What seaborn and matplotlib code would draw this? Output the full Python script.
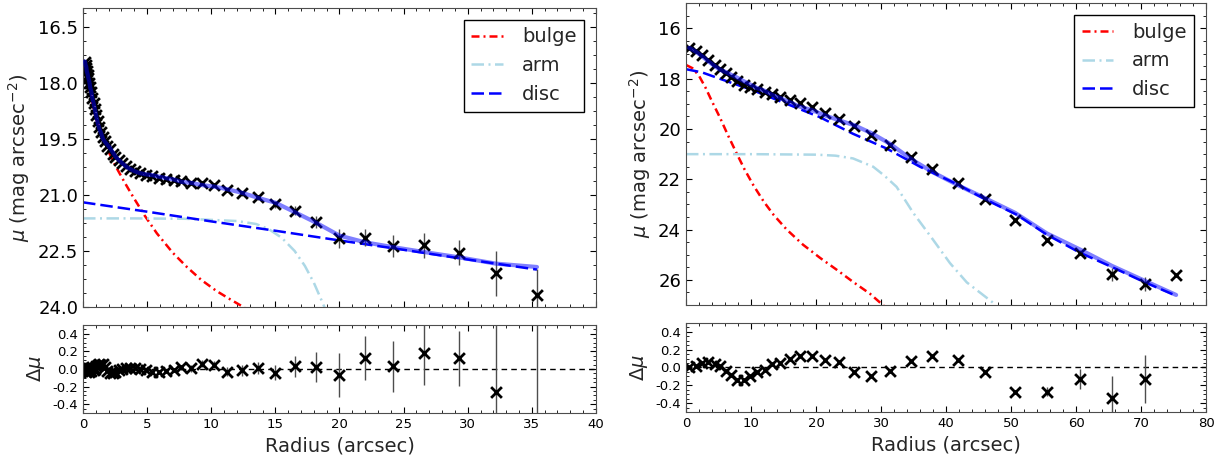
import numpy as np
import pandas as pd
import matplotlib
matplotlib.use("Agg")
import matplotlib.pyplot as plt
from matplotlib.ticker import AutoMinorLocator, FormatStrFormatter
from matplotlib.lines import Line2D
import seaborn as sns

# ---------------- data: left galaxy ----------------
r_L = [0.15, 0.20, 0.25, 0.30, 0.36, 0.42, 0.49, 0.56, 0.64, 0.73, 0.82, 0.92, 1.03, 1.15,
       1.28, 1.42, 1.57, 1.73, 1.90, 2.09, 2.30, 2.53, 2.78, 3.05, 3.35, 3.68, 4.04, 4.44,
       4.88, 5.36, 5.89, 6.47, 7.10, 7.65, 8.45, 9.30, 10.25, 11.25, 12.40, 13.65, 15.00,
       16.50, 18.20, 20.00, 22.00, 24.20, 26.60, 29.30, 32.20, 35.40]
mu_L = [17.45, 17.52, 17.60, 17.68, 17.78, 17.88, 18.00, 18.12, 18.25, 18.40, 18.55, 18.70,
        18.87, 19.03, 19.18, 19.32, 19.45, 19.57, 19.68, 19.78, 19.90, 20.00, 20.08, 20.15,
        20.23, 20.30, 20.36, 20.42, 20.46, 20.50, 20.54, 20.57, 20.60, 20.63, 20.67, 20.68,
        20.73, 20.88, 20.96, 21.07, 21.25, 21.43, 21.73, 22.16, 22.15, 22.37, 22.35, 22.55,
        23.10, 23.68]
mu_err_L = [0.01, 0.01, 0.01, 0.01, 0.01, 0.01, 0.01, 0.01, 0.01, 0.01, 0.01, 0.01, 0.01, 0.01,
            0.01, 0.01, 0.01, 0.01, 0.01, 0.01, 0.01, 0.01, 0.01, 0.01, 0.01, 0.01, 0.01, 0.01,
            0.02, 0.02, 0.02, 0.02, 0.02, 0.03, 0.04, 0.04, 0.04, 0.05, 0.06, 0.07, 0.09,
            0.12, 0.16, 0.25, 0.23, 0.29, 0.33, 0.33, 0.60, 0.70]
model_L = [17.43, 17.53, 17.57, 17.70, 17.77, 17.88, 17.97, 18.13, 18.23, 18.42, 18.54, 18.70,
           18.90, 19.08, 19.24, 19.36, 19.51, 19.59, 19.66, 19.74, 19.85, 19.97, 20.07, 20.15,
           20.24, 20.31, 20.37, 20.42, 20.45, 20.47, 20.51, 20.55, 20.59, 20.65, 20.68, 20.74,
           20.78, 20.85, 20.945, 21.08, 21.21, 21.46, 21.75, 22.09, 22.27, 22.40, 22.53, 22.67,
           22.84, 22.93]
dmu_L = [-0.02, 0.01, -0.03, 0.02, -0.01, 0.00, -0.03, 0.01, -0.02, 0.02, -0.01, 0.00, 0.03,
         0.05, 0.06, 0.04, 0.06, 0.02, -0.02, -0.04, -0.05, -0.03, -0.01, 0.00, 0.01, 0.01,
         0.01, 0.00, -0.01, -0.03, -0.03, -0.02, -0.01, 0.02, 0.01, 0.06, 0.05, -0.03, -0.015,
         0.01, -0.04, 0.03, 0.02, -0.07, 0.12, 0.03, 0.18, 0.12, -0.26, -0.75]
dmu_err_L = [0.02, 0.02, 0.02, 0.02, 0.02, 0.02, 0.02, 0.02, 0.02, 0.02, 0.02, 0.02, 0.02, 0.02,
             0.02, 0.02, 0.02, 0.02, 0.02, 0.02, 0.02, 0.02, 0.02, 0.02, 0.02, 0.02, 0.02, 0.02,
             0.02, 0.02, 0.02, 0.02, 0.02, 0.03, 0.04, 0.04, 0.04, 0.05, 0.06, 0.07, 0.09,
             0.12, 0.17, 0.25, 0.25, 0.29, 0.36, 0.31, 0.80, 1.30]

bulge_r_L = [0.15, 0.5, 1.0, 1.5, 2.0, 2.65, 3.3, 3.9, 4.8, 5.76, 7.0, 8.1, 9.2, 10.4, 11.5, 12.6]
bulge_mu_L = [17.55, 18.2, 18.95, 19.45, 19.85, 20.3, 20.7, 21.05, 21.55, 22.03, 22.55, 22.93,
              23.27, 23.57, 23.8, 24.02]
arm_r_L = [0, 4, 8, 12, 13.5, 14.5, 15.5, 16.5, 17.3, 18.0, 18.7, 19.0]
arm_mu_L = [21.63, 21.63, 21.64, 21.70, 21.78, 21.92, 22.15, 22.50, 22.90, 23.35, 23.90, 24.15]
disc_r_L = [0, 5, 10, 15, 20, 25, 30, 35.4]
disc_mu_L = [21.20, 21.45, 21.71, 21.96, 22.22, 22.47, 22.73, 23.00]

# ---------------- data: right galaxy ----------------
r_R = [0.5, 1.5, 2.5, 3.4, 4.4, 5.3, 6.1, 7.0, 7.9, 8.9, 9.9, 10.9, 12.1, 13.3, 14.5, 16.0,
       17.5, 19.4, 21.4, 23.5, 25.9, 28.5, 31.4, 34.6, 37.9, 41.8, 46.0, 50.6, 55.5, 60.6,
       65.5, 70.6, 75.4]
mu_R = [16.77, 16.90, 17.06, 17.24, 17.45, 17.63, 17.77, 17.93, 18.10, 18.24, 18.33, 18.42,
        18.51, 18.61, 18.72, 18.85, 18.98, 19.12, 19.38, 19.59, 19.90, 20.25, 20.63, 21.12,
        21.58, 22.15, 22.80, 23.60, 24.42, 24.92, 25.78, 26.17, 25.80]
mu_err_R = [0.01, 0.01, 0.01, 0.01, 0.01, 0.01, 0.01, 0.01, 0.01, 0.01, 0.01, 0.01, 0.01, 0.01,
            0.01, 0.01, 0.01, 0.01, 0.01, 0.01, 0.01, 0.01, 0.01, 0.01, 0.01, 0.01, 0.01, 0.02,
            0.05, 0.11, 0.25, 0.27, 0.05]
model_R = [16.77, 16.92, 17.11, 17.30, 17.49, 17.65, 17.73, 17.85, 17.96, 18.10, 18.23, 18.37,
           18.48, 18.65, 18.77, 18.94, 19.11, 19.25, 19.46, 19.65, 19.85, 20.16, 20.59, 21.19,
           21.71, 22.23, 22.75, 23.33, 24.15, 24.79, 25.44, 26.04, 26.60]
dmu_R = [0.00, 0.02, 0.05, 0.06, 0.04, 0.02, -0.04, -0.08, -0.14, -0.14, -0.10, -0.05, -0.03,
         0.04, 0.05, 0.09, 0.13, 0.13, 0.08, 0.06, -0.05, -0.09, -0.04, 0.07, 0.13, 0.08,
         -0.05, -0.27, -0.27, -0.13, -0.34, -0.13, 0.80]
dmu_err_R = mu_err_R

bulge_r_R = [0, 1, 2, 3, 4, 5.2, 6.5, 7.8, 9, 10.4, 12, 13.5, 15.5, 18, 20.6, 23.2, 25.7, 28.3,
             30.5]
bulge_mu_R = [17.45, 17.58, 17.88, 18.35, 18.9, 19.53, 20.27, 20.97, 21.6, 22.25, 22.9, 23.42,
              24.0, 24.6, 25.12, 25.6, 26.08, 26.55, 27.05]
arm_r_R = [0, 10, 20, 23, 25.7, 28.8, 30.5, 32.4, 35.0, 38.0, 40.6, 43.2, 47.5]
arm_mu_R = [21.0, 21.0, 21.02, 21.06, 21.17, 21.5, 21.85, 22.3, 23.35, 24.4, 25.33, 26.1, 26.96]
disc_r_R = [0, 2.5, 5.2, 10.4, 15.5, 20.6, 25.7, 30.9, 36.0, 41.9, 46.2, 50.9, 55.5, 60.6, 65.7,
            70.6, 75.4]
disc_mu_R = [17.62, 17.75, 18.0, 18.47, 19.0, 19.53, 20.19, 20.78, 21.5, 22.22, 22.82, 23.41,
             24.2, 24.92, 25.51, 26.1, 26.63]

# ---------------- style ----------------
sns.set_style("ticks", rc={
    "xtick.direction": "in", "ytick.direction": "in",
    "xtick.top": True, "ytick.right": True,
    "axes.edgecolor": "0.3", "axes.linewidth": 1.2,
    "xtick.color": "k", "ytick.color": "k",
})
plt.rcParams["font.family"] = ["DejaVu Sans"]
plt.rcParams["mathtext.fontset"] = "dejavusans"
plt.rcParams["xtick.major.size"] = 4
plt.rcParams["ytick.major.size"] = 4
plt.rcParams["xtick.minor.size"] = 2
plt.rcParams["ytick.minor.size"] = 2
plt.rcParams["xtick.minor.visible"] = True
plt.rcParams["ytick.minor.visible"] = True

fig = plt.figure(figsize=(12.28, 4.59), dpi=100)
axL = fig.add_axes([0.0676, 0.3312, 0.4177, 0.6514])
axLr = fig.add_axes([0.0676, 0.1002, 0.4177, 0.1917])
axR = fig.add_axes([0.5586, 0.3355, 0.4235, 0.6573])
axRr = fig.add_axes([0.5586, 0.1024, 0.4235, 0.1939])

BULGE_LS = (0, (3.2, 1.6, 0.8, 1.6))
ARM_LS = (0, (5, 1.8, 0.8, 1.8))
DISC_LS = (0, (5, 2))


def main_panel(ax, r, mu, err, model, br, bmu, ar, amu, dr, dmu_disc):
    sns.lineplot(x=br, y=bmu, ax=ax, color="red", lw=1.8, linestyle=BULGE_LS,
                 estimator=None, sort=False, zorder=2)
    sns.lineplot(x=ar, y=amu, ax=ax, color="lightblue", lw=1.8, linestyle=ARM_LS,
                 estimator=None, sort=False, zorder=2)
    sns.lineplot(x=dr, y=dmu_disc, ax=ax, color="blue", lw=1.8, linestyle=DISC_LS,
                 estimator=None, sort=False, zorder=2.2)
    ax.errorbar(r, mu, yerr=err, fmt="none", ecolor="0.3", elinewidth=1, capsize=0, zorder=2.4)
    sns.scatterplot(x=r, y=mu, ax=ax, marker="x", s=60, color="k", linewidth=2, zorder=2.5)
    sns.lineplot(x=r, y=model, ax=ax, color="blue", lw=3, alpha=0.5,
                 estimator=None, sort=False, zorder=3)
    handles = [Line2D([], [], color="red", lw=1.8, linestyle=BULGE_LS),
               Line2D([], [], color="lightblue", lw=1.8, linestyle=ARM_LS),
               Line2D([], [], color="blue", lw=1.8, linestyle=DISC_LS)]
    leg = ax.legend(handles, ["bulge", "arm", "disc"], loc="upper right", fontsize=14,
                    frameon=True, fancybox=False, edgecolor="k", framealpha=1,
                    handlelength=1.6, borderaxespad=0.6, handletextpad=1.0)
    leg.get_frame().set_linewidth(1.0)
    ax.tick_params(labelbottom=False, labelsize=13)
    ax.set_ylabel(r"$\mu$ (mag arcsec$^{-2}$)", fontsize=14)
    ax.set_xlabel("")
    ax.xaxis.set_minor_locator(AutoMinorLocator())
    ax.yaxis.set_minor_locator(AutoMinorLocator())


def resid_panel(ax, r, d, derr):
    ax.axhline(0, color="k", lw=1, linestyle=(0, (4, 3)), zorder=1)
    ax.errorbar(r, d, yerr=derr, fmt="none", ecolor="0.3", elinewidth=1, capsize=0, zorder=2)
    sns.scatterplot(x=r, y=d, ax=ax, marker="x", s=60, color="k", linewidth=2, zorder=2.5)
    ax.set_ylim(-0.5, 0.5)
    ax.set_yticks([-0.4, -0.2, 0.0, 0.2, 0.4])
    ax.yaxis.set_major_formatter(FormatStrFormatter("%.1f"))
    ax.tick_params(labelsize=9.5)
    ax.set_ylabel(r"$\Delta\mu$", fontsize=14)
    ax.set_xlabel("Radius (arcsec)", fontsize=14)
    ax.xaxis.set_minor_locator(AutoMinorLocator())
    ax.yaxis.set_minor_locator(AutoMinorLocator())


main_panel(axL, r_L, mu_L, mu_err_L, model_L, bulge_r_L, bulge_mu_L,
           arm_r_L, arm_mu_L, disc_r_L, disc_mu_L)
axL.set_xlim(0, 40)
axL.set_ylim(24, 16)
axL.set_yticks([16.5, 18.0, 19.5, 21.0, 22.5, 24.0])
axL.yaxis.set_major_formatter(FormatStrFormatter("%.1f"))
axL.set_xticks(range(0, 41, 5))

resid_panel(axLr, r_L, dmu_L, dmu_err_L)
axLr.set_xlim(0, 40)
axLr.set_xticks(range(0, 41, 5))

main_panel(axR, r_R, mu_R, mu_err_R, model_R, bulge_r_R, bulge_mu_R,
           arm_r_R, arm_mu_R, disc_r_R, disc_mu_R)
axR.set_xlim(0, 80)
axR.set_ylim(27, 15)
axR.set_yticks([16, 18, 20, 22, 24, 26])
axR.set_xticks(range(0, 81, 10))

resid_panel(axRr, r_R, dmu_R, dmu_err_R)
axRr.set_xlim(0, 80)
axRr.set_xticks(range(0, 81, 10))

fig.savefig("out.png", dpi=100)
